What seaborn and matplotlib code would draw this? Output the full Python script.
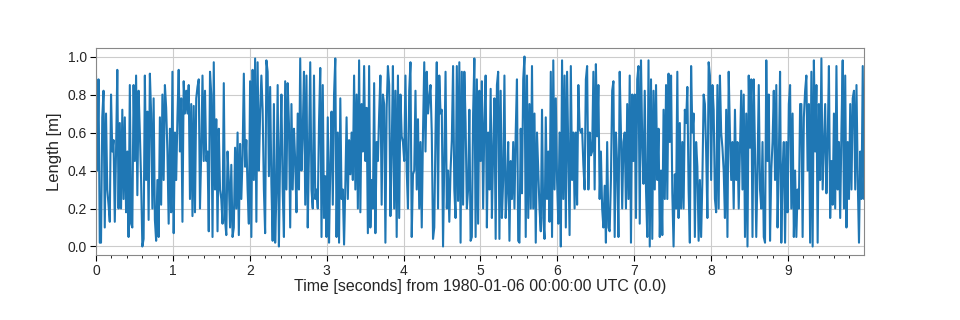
import numpy as np
import pandas as pd
import matplotlib
matplotlib.use("Agg")
import matplotlib.pyplot as plt
from matplotlib.ticker import MultipleLocator
import seaborn as sns

# Values, segment by segment (left to right)
seg1 = [0.9, 0.4, 0.88, 0.02, 0.02, 0.68, 0.82, 0.1, 0.7, 0.3, 0.22, 0.13, 0.8, 0.5, 0.56, 0.13,
        0.5, 0.93, 0.2, 0.65, 0.2, 0.72, 0.25, 0.68, 0.18, 0.5, 0.05, 0.85, 0.12, 0.1, 0.85, 0.45,
        0.9, 0.27, 0.82, 0.6, 0.35, 0.0, 0.04, 0.9, 0.35, 0.71, 0.14, 0.91, 0.7, 0.2, 0.78, 0.14,
        0.03, 0.35, 0.05, 0.68, 0.22, 0.8, 0.35, 0.85, 0.73, 0.5, 0.12, 0.62, 0.18, 0.92, 0.07, 0.6,
        0.35, 0.68, 0.93, 0.5, 0.78, 0.13, 0.87]
seg2 = [0.7, 0.82, 0.7, 0.85, 0.25, 0.75, 0.16, 0.74, 0.18, 0.78, 0.84, 0.88, 0.2, 0.5, 0.9, 0.45,
        0.82, 0.45, 0.5, 0.08, 0.92, 0.8, 0.05, 0.97, 0.3, 0.67, 0.08, 0.62, 0.3, 0.25, 0.12, 0.86,
        0.14, 0.06, 0.5, 0.35, 0.1, 0.43, 0.05, 0.1, 0.52, 0.2, 0.6, 0.06, 0.54, 0.25, 0.48, 0.91,
        0.42, 0.56, 0.3, 0.12, 0.87, 0.05, 0.93, 0.35, 0.99, 0.13, 0.97, 0.4, 0.7, 0.9, 0.72, 0.3,
        0.07, 0.98, 0.92, 0.37, 0.84, 0.33, 0.03, 0.75, 0.02, 0.28, 0.85, 0.0, 0.5, 0.8]
seg3 = [0.3, 0.05, 0.87, 0.3, 0.86, 0.65, 0.1, 0.75, 0.3, 0.62, 0.45, 0.18, 0.7, 0.3, 0.99, 0.4,
        0.6, 0.92, 0.22, 0.9, 0.1, 0.5, 0.97, 0.3, 0.2, 0.9, 0.25, 0.3, 0.2, 0.65, 0.94, 0.05,
        0.85, 0.15, 0.37, 0.05, 0.68, 0.02, 0.42, 0.71, 0.22, 0.8, 0.99, 0.05, 0.6, 0.02, 0.78, 0.25,
        0.3, 0.01, 0.32, 0.68, 0.25, 0.56, 0.38, 0.6, 0.35, 0.9, 0.3, 0.8, 0.2, 0.98, 0.18, 0.75,
        0.5, 0.95, 0.45, 0.73, 0.07, 0.95, 0.1, 0.35, 0.2, 0.86, 0.07, 0.55]
seg4 = [0.45, 0.7, 0.9, 0.22, 0.8, 0.75, 0.02, 0.73, 0.95, 0.85, 0.16, 0.5, 0.95, 0.2, 0.82, 0.05,
        0.9, 0.15, 0.8, 0.58, 0.55, 0.45, 0.9, 0.4, 0.2, 0.82, 0.97, 0.05, 0.38, 0.4, 0.82, 0.3,
        0.67, 0.2, 0.55, 0.1, 0.6, 0.97, 0.5, 0.92, 0.7, 0.78, 0.85, 0.6, 0.04, 0.1, 0.6, 0.97,
        0.2, 0.9, 0.7, 0.72, 0.0, 0.45, 0.92, 0.2, 0.4, 0.13, 0.4, 0.56, 0.95, 0.3, 0.15, 0.95,
        0.24, 0.97, 0.02, 0.92, 0.22, 0.92, 0.65, 0.2, 0.3, 0.72]
seg5 = [0.03, 0.05, 0.7, 0.99, 0.05, 0.88, 0.12, 0.82, 0.45, 0.87, 0.2, 0.65, 0.9, 0.1, 0.6, 0.3,
        0.83, 0.15, 0.5, 0.78, 0.04, 0.85, 0.92, 0.04, 0.82, 0.15, 0.35, 0.9, 0.15, 0.3, 0.55, 0.03,
        0.45, 0.25, 0.55, 0.2, 0.6, 0.88, 0.03, 0.02, 0.62, 0.28, 0.88, 1.0, 0.05, 0.9, 0.15, 0.75,
        0.2, 0.95, 0.2, 0.7, 0.02, 0.6, 0.4, 0.2, 0.08, 0.72, 0.15, 0.04, 0.68, 0.25, 0.5, 0.13,
        0.92, 0.05, 0.98, 0.3, 0.78, 0.35, 0.12, 0.6, 0.0, 0.98, 0.25, 0.9]
seg6 = [0.1, 0.92, 0.5, 0.06, 0.95, 0.35, 0.6, 0.2, 0.6, 0.22, 0.85, 0.62, 0.6, 0.62, 0.43, 0.3,
        0.88, 0.95, 0.3, 0.6, 0.48, 0.5, 0.92, 0.3, 0.96, 0.58, 0.85, 0.25, 0.5, 0.2, 0.1, 0.32,
        0.02, 0.55, 0.1, 0.08, 0.35, 0.82, 0.87, 0.05, 0.6, 0.43, 0.05, 0.92, 0.6, 0.2, 0.55, 0.6,
        0.2, 0.75, 0.25, 0.9, 0.02, 0.8, 0.45, 0.8, 0.15, 0.88, 0.95, 0.12, 0.98, 0.55, 0.33, 0.82,
        0.3, 0.05, 0.98, 0.0, 0.88, 0.04, 0.82, 0.3, 0.85, 0.35, 0.62, 0.05]
seg7 = [0.4, 0.06, 0.72, 0.25, 0.85, 0.25, 0.91, 0.55, 0.9, 0.28, 0.0, 0.38, 0.2, 0.92, 0.15, 0.65,
        0.2, 0.55, 0.2, 0.72, 0.65, 0.84, 0.3, 0.02, 0.95, 0.6, 0.7, 0.05, 0.55, 0.42, 0.03, 0.35,
        0.05, 0.35, 0.8, 0.75, 0.5, 0.15, 0.97, 0.9, 0.35, 0.85, 0.72, 0.25, 0.18, 0.85, 0.2, 0.9,
        0.6, 0.52, 0.4, 0.15, 0.72, 0.05, 0.92, 0.6, 0.35, 0.55, 0.2, 0.72, 0.35, 0.55, 0.2, 0.5,
        0.82, 0.3, 0.8, 0.05, 0.7, 0.0, 0.9, 0.52, 0.88, 0.05, 0.88, 0.5, 0.05]
seg8 = [0.4, 0.85, 0.3, 0.2, 0.55, 0.05, 0.02, 0.98, 0.45, 0.8, 0.03, 0.4, 0.55, 0.82, 0.35, 0.85,
        0.1, 0.45, 0.92, 0.02, 0.4, 0.55, 0.02, 0.55, 0.18, 0.75, 0.85, 0.2, 0.7, 0.05, 0.4, 0.05,
        0.3, 0.2, 0.75, 0.75, 0.05, 0.68, 0.82, 0.9, 0.4, 0.75, 0.02, 0.92, 0.0, 0.98, 0.5, 0.85,
        0.02, 0.75, 0.35, 0.99, 0.3, 0.52, 0.75, 0.28, 0.55, 0.95, 0.15, 0.45, 0.22, 0.7, 0.2, 0.95,
        0.3, 0.55, 0.15, 0.62, 0.98, 0.2, 0.9, 0.1, 0.55, 0.25, 0.75, 0.3, 0.78, 0.82, 0.3, 0.85,
        0.35, 0.02, 0.5, 0.25, 0.95, 0.25]

x_ticks = [0, 1, 2, 3, 4, 5, 6, 7, 8, 9]
duration = 9.99
xlabel = "Time [seconds] from 1980-01-06 00:00:00 UTC (0.0)"
ylabel = "Length [m]"

values = np.array(seg1 + seg2 + seg3 + seg4 + seg5 + seg6 + seg7 + seg8)
times = np.linspace(0, duration, len(values))
df = pd.DataFrame({"time": times, "length": values})

sns.set_style("white")
plt.rcParams["font.family"] = ["Liberation Sans", "DejaVu Sans"]

fig = plt.figure(figsize=(9.6, 3.2), dpi=100)
ax = fig.add_axes([0.1, 0.203, 0.8, 0.647])
sns.lineplot(data=df, x="time", y="length", ax=ax, color="#1f77b4", linewidth=1.5)

ax.set_xlim(0, duration)
ax.set_ylim(-0.045, 1.045)
ax.set_xticks(x_ticks)
ax.xaxis.set_minor_locator(MultipleLocator(0.2))
ax.set_yticks([0.0, 0.2, 0.4, 0.6, 0.8, 1.0])
ax.grid(True, which="major", color="#cccccc", linewidth=0.8)
ax.set_axisbelow(True)
for s in ax.spines.values():
    s.set_color("#888888")
    s.set_linewidth(0.8)
ax.tick_params(axis="both", which="major", direction="out", length=4, width=0.8,
               labelsize=10, color="black", bottom=True, left=True, pad=2.5)
ax.tick_params(axis="x", which="minor", direction="out", length=2, width=0.6,
               color="black", bottom=True)
ax.set_xlabel(xlabel, fontsize=11.5, labelpad=1)
ax.set_ylabel(ylabel, fontsize=12, labelpad=4)

fig.savefig("out.png", dpi=100)
